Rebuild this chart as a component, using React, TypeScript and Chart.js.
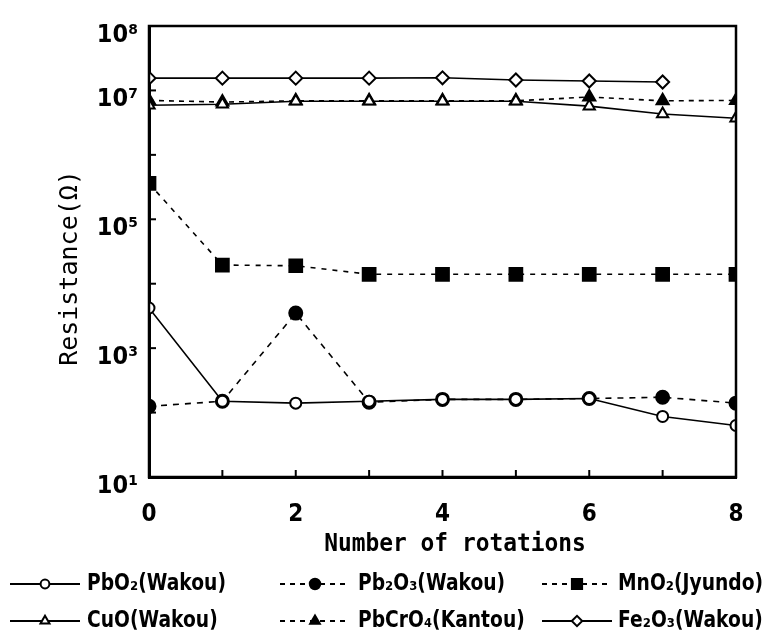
import React, { useEffect, useRef } from 'react';
import { Chart, registerables } from 'chart.js';
import { drawPoint } from 'chart.js/helpers';

Chart.register(...registerables);

const ROTATIONS = [0, 1, 2, 3, 4, 5, 6, 7, 8];
const PBO2 = [4200, 150, 140, 150, 160, 160, 165, 87, 63];
const PB2O3 = [125, 150, 3500, 145, 160, 160, 165, 173, 140];
const MNO2 = [3.6e5, 1.95e4, 1.9e4, 1.4e4, 1.4e4, 1.4e4, 1.4e4, 1.4e4, 1.4e4];
const CUO = [5.9e6, 6.1e6, 6.8e6, 6.8e6, 6.8e6, 6.8e6, 5.7e6, 4.3e6, 3.7e6];
const PBCRO4 = [7.0e6, 6.6e6, 6.9e6, 6.9e6, 6.9e6, 6.9e6, 7.9e6, 6.9e6, 7.0e6];
const FE2O3 = [1.55e7, 1.55e7, 1.55e7, 1.55e7, 1.57e7, 1.45e7, 1.4e7, 1.35e7];

const SERIES_NAMES = ['PbO₂(Wakou)', 'Pb₂O₃(Wakou)', 'MnO₂(Jyundo)', 'CuO(Wakou)', 'PbCrO₄(Kantou)', 'Fe₂O₃(Wakou)'];
const Y_TICKS = [1e1, 1e2, 1e3, 1e4, 1e5, 1e6, 1e7, 1e8];
const Y_LABELED_EXP = [1, 3, 5, 7, 8];
const X_LABELED = [0, 2, 4, 6, 8];
const SUP = ['⁰', '¹', '²', '³', '⁴', '⁵', '⁶', '⁷', '⁸', '⁹'];
const X_TITLE = 'Number of rotations';
const Y_TITLE = 'Resistance(Ω)';

const TICK_FONT = "'Liberation Sans Narrow', 'DejaVu Sans Condensed', 'DejaVu Sans', sans-serif";

const pts = (vals: number[]) => vals.map((v, i) => ({ x: ROTATIONS[i], y: v }));

const decorPlugin = {
  id: 'decor',
  afterDraw(chart: any) {
    const { ctx, chartArea } = chart;
    const xs = chart.scales.x;
    const ys = chart.scales.y;
    ctx.save();
    // frame
    ctx.strokeStyle = '#000';
    ctx.lineWidth = 2.5;
    ctx.strokeRect(chartArea.left, chartArea.top, chartArea.right - chartArea.left, chartArea.bottom - chartArea.top);
    // inward ticks
    ctx.lineWidth = 2;
    ROTATIONS.forEach((r) => {
      const px = xs.getPixelForValue(r);
      ctx.beginPath();
      ctx.moveTo(px, chartArea.bottom);
      ctx.lineTo(px, chartArea.bottom - 7);
      ctx.stroke();
    });
    Y_TICKS.forEach((t) => {
      const py = ys.getPixelForValue(t);
      ctx.beginPath();
      ctx.moveTo(chartArea.left, py);
      ctx.lineTo(chartArea.left + 7, py);
      ctx.stroke();
    });

    // axis titles
    ctx.fillStyle = '#000';
    ctx.textAlign = 'center';
    ctx.textBaseline = 'middle';
    ctx.font = "bold 22px 'DejaVu Sans Mono', 'Liberation Mono', monospace";
    ctx.save();
    ctx.translate(455, 545);
    ctx.scale(1.04, 1.1);
    ctx.fillText(X_TITLE, 0, 0);
    ctx.restore();

    ctx.save();
    ctx.translate(70, 268);
    ctx.rotate(-Math.PI / 2);
    ctx.font = "25px 'DejaVu Sans Mono', 'Liberation Mono', monospace";
    ctx.fillText(Y_TITLE, 0, 0);
    ctx.restore();

    // legend
    const colSample = [10, 280, 542];
    const colText = [87, 358, 618];
    const rowY = [584, 621];
    chart.data.datasets.forEach((ds: any, i: number) => {
      const col = i % 3;
      const row = Math.floor(i / 3);
      const x0 = colSample[col];
      const y = rowY[row];
      ctx.save();
      ctx.strokeStyle = '#000';
      ctx.lineWidth = 2;
      ctx.setLineDash(ds.borderDash && ds.borderDash.length ? [5, 5] : []);
      ctx.beginPath();
      ctx.moveTo(x0, y);
      ctx.lineTo(x0 + 70, y);
      ctx.stroke();
      ctx.setLineDash([]);
      ctx.fillStyle = ds.pointBackgroundColor;
      ctx.strokeStyle = '#000';
      ctx.lineWidth = 2;
      drawPoint(ctx, { pointStyle: ds.pointStyle, radius: ds.pointRadius * 0.8, borderWidth: 2, rotation: 0 }, x0 + 35, y);
      ctx.restore();

      ctx.save();
      ctx.fillStyle = '#000';
      ctx.textAlign = 'left';
      ctx.textBaseline = 'middle';
      ctx.font = "bold 22px 'DejaVu Sans', sans-serif";
      ctx.translate(colText[col], y);
      ctx.scale(0.85, 1.05);
      ctx.fillText(SERIES_NAMES[i], 0, 0);
      ctx.restore();
    });
    ctx.restore();
  },
};

export default function App() {
  const ref = useRef<HTMLCanvasElement | null>(null);
  useEffect(() => {
    if (!ref.current) return;
    const common = { borderColor: '#000', pointBorderColor: '#000', pointBorderWidth: 2, borderWidth: 1.6 };
    const chart = new Chart(ref.current, {
      type: 'line',
      data: {
        datasets: [
          { ...common, label: SERIES_NAMES[0], data: pts(PBO2), borderDash: [], pointStyle: 'circle', pointRadius: 5.5, pointBackgroundColor: '#fff' },
          { ...common, label: SERIES_NAMES[1], data: pts(PB2O3), borderDash: [6, 6], pointStyle: 'circle', pointRadius: 6.5, pointBackgroundColor: '#000' },
          { ...common, label: SERIES_NAMES[2], data: pts(MNO2), borderDash: [5, 6], pointStyle: 'rect', pointRadius: 9, pointBackgroundColor: '#000' },
          { ...common, label: SERIES_NAMES[3], data: pts(CUO), borderDash: [], pointStyle: 'triangle', pointRadius: 6.5, pointBackgroundColor: '#fff' },
          { ...common, label: SERIES_NAMES[4], data: pts(PBCRO4), borderDash: [5, 5], pointStyle: 'triangle', pointRadius: 7, pointBackgroundColor: '#000' },
          { ...common, label: SERIES_NAMES[5], data: pts(FE2O3), borderDash: [], pointStyle: 'rectRot', pointRadius: 6.5, pointBackgroundColor: '#fff' },
        ],
      } as any,
      options: {
        responsive: false,
        animation: false,
        devicePixelRatio: 1,
        layout: { padding: { left: 0, top: 26, right: 38, bottom: 0 } },
        plugins: { legend: { display: false }, tooltip: { enabled: false } },
        elements: { line: { tension: 0 } },
        scales: {
          x: {
            type: 'linear',
            min: 0,
            max: 8,
            afterFit: (s: any) => { s.height = 159; },
            grid: { display: true, drawOnChartArea: false, drawTicks: false },
            border: { display: true, width: 3, color: '#000' },
            ticks: {
              stepSize: 1,
              autoSkip: false,
              maxRotation: 0,
              padding: 23,
              color: '#000',
              font: { family: TICK_FONT, weight: 'bold', size: 24 },
              callback: (v: any) => (X_LABELED.includes(Number(v)) ? String(v) : ''),
            },
          },
          y: {
            type: 'logarithmic',
            min: 10,
            max: 1e8,
            afterFit: (s: any) => { s.width = 149; },
            afterBuildTicks: (s: any) => { s.ticks = Y_TICKS.map((v) => ({ value: v })); },
            grid: { display: true, drawOnChartArea: false, drawTicks: false },
            border: { display: true, width: 3, color: '#000' },
            ticks: {
              autoSkip: false,
              padding: 11,
              labelOffset: 9,
              color: '#000',
              font: { family: TICK_FONT, weight: 'bold', size: 25 },
              callback: (v: any) => {
                const e = Math.round(Math.log10(Number(v)));
                return Y_LABELED_EXP.includes(e) ? '10' + SUP[e] : '';
              },
            },
          },
        },
      } as any,
      plugins: [decorPlugin],
    });
    return () => chart.destroy();
  }, []);

  return (
    <div style={{ position: 'fixed', left: 0, top: 0, width: 774, height: 636, background: '#fff' }}>
      <canvas ref={ref} width={774} height={636} style={{ width: 774, height: 636, display: 'block' }} />
    </div>
  );
}
